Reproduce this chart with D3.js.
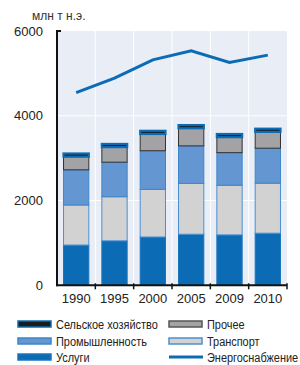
<!DOCTYPE html>
<html>
<head>
<meta charset="utf-8">
<script src="https://cdn.jsdelivr.net/npm/d3@7"></script>
<style>
  body { margin: 0; background: #fff; }
  svg { display: block; font-family: "Liberation Sans", Arial, sans-serif; }
</style>
</head>
<body>
<script>
const years = ["1990", "1995", "2000", "2005", "2009", "2010"];
const services = [950, 1050, 1140, 1205, 1190, 1230];
const transport = [945, 1040, 1125, 1200, 1170, 1180];
const industry = [830, 815, 910, 885, 770, 825];
const other = [310, 355, 395, 415, 365, 385];
const agriculture = [75, 75, 75, 75, 75, 75];
const supply = [4548, 4888, 5320, 5533, 5257, 5431];
const yTicks = [0, 2000, 4000, 6000];

const width = 300, height = 365;
const margin = { left: 57, right: 13, top: 31, bottom: 80 };

const series = [
    { name: "Услуги", values: services, fill: "#0b6cb5", stroke: "#1a75bd" },
    { name: "Транспорт", values: transport, fill: "#d2d2d3", stroke: "#4a90d0" },
    { name: "Промышленность", values: industry, fill: "#6496d2", stroke: "#3d86cc" },
    { name: "Прочее", values: other, fill: "#a3a3a6", stroke: "#333" },
    { name: "Сельское хозяйство", values: agriculture, fill: "#1c1c1c", stroke: "#0b6cb5" }
];

const svg = d3.select("body").append("svg")
    .attr("width", width)
    .attr("height", height);

const x = d3.scaleBand()
    .domain(years)
    .range([margin.left, width - margin.right])
    .padding(0);

const y = d3.scaleLinear()
    .domain([0, 6000])
    .range([height - margin.bottom + 0.3, margin.top]);

// plot background
svg.append("rect")
    .attr("x", margin.left)
    .attr("y", y(6000))
    .attr("width", x.range()[1] - margin.left)
    .attr("height", y(0) - y(6000))
    .attr("fill", "#e8edf6");

// white grid
svg.append("g")
    .selectAll("line")
    .data(yTicks.slice(1, 3))
    .join("line")
    .attr("x1", margin.left).attr("x2", x.range()[1])
    .attr("y1", d => y(d)).attr("y2", d => y(d))
    .attr("stroke", "#fff").attr("stroke-width", 1);

svg.append("g")
    .selectAll("line")
    .data(years.slice(1))
    .join("line")
    .attr("x1", d => x(d)).attr("x2", d => x(d))
    .attr("y1", y(6000)).attr("y2", y(0))
    .attr("stroke", "#fff").attr("stroke-width", 1);

// stacked bars
const stacked = [];
years.forEach((yr, i) => {
    let base = 0;
    series.forEach(s => {
        stacked.push({ year: yr, y0: base, y1: base + s.values[i], s: s });
        base += s.values[i];
    });
});

const bw = x.bandwidth() * 0.66;
svg.append("g")
    .selectAll("rect")
    .data(stacked)
    .join("rect")
    .attr("x", d => x(d.year) + (x.bandwidth() - bw) / 2)
    .attr("y", d => y(d.y1))
    .attr("width", bw)
    .attr("height", d => y(d.y0) - y(d.y1))
    .attr("fill", d => d.s.fill)
    .attr("stroke", d => d.s.stroke)
    .attr("stroke-width", d => d.s.name === "Сельское хозяйство" ? 2.2 : 1);

// energy supply line
const line = d3.line()
    .x((d, i) => x(years[i]) + x.bandwidth() / 2)
    .y(d => y(d));

svg.append("path")
    .datum(supply)
    .attr("d", line)
    .attr("fill", "none")
    .attr("stroke", "#0b6cb5")
    .attr("stroke-width", 3);

// axes
const yAxis = svg.append("g")
    .attr("transform", `translate(${margin.left},0)`)
    .call(d3.axisLeft(y).tickValues(yTicks).tickFormat(d3.format("d")).tickSize(0).tickPadding(14));
yAxis.select(".domain").remove();
yAxis.selectAll("text").attr("font-size", 13).attr("fill", "#222");

svg.append("line")
    .attr("x1", margin.left).attr("x2", margin.left)
    .attr("y1", y(6000) - 1).attr("y2", y(0) + 1)
    .attr("stroke", "#111").attr("stroke-width", 2);
svg.append("line")
    .attr("x1", margin.left).attr("x2", margin.left + 4)
    .attr("y1", y(6000)).attr("y2", y(6000))
    .attr("stroke", "#111").attr("stroke-width", 2);

const xAxis = svg.append("g")
    .attr("transform", `translate(0,${y(0)})`)
    .call(d3.axisBottom(x).tickSize(0).tickPadding(8));
xAxis.select(".domain").remove();
xAxis.selectAll("text").attr("font-size", 13).attr("fill", "#222");

svg.append("line")
    .attr("x1", margin.left - 1).attr("x2", x.range()[1])
    .attr("y1", y(0)).attr("y2", y(0))
    .attr("stroke", "#111").attr("stroke-width", 2);
svg.append("g")
    .selectAll("line")
    .data(years.slice(1).concat(["end"]))
    .join("line")
    .attr("x1", d => d === "end" ? x.range()[1] : x(d))
    .attr("x2", d => d === "end" ? x.range()[1] : x(d))
    .attr("y1", y(0) - 2).attr("y2", y(0) + 4)
    .attr("stroke", "#111").attr("stroke-width", 1.5);

// unit label
svg.append("text")
    .attr("x", 32).attr("y", 20)
    .attr("font-size", 12)
    .attr("fill", "#333")
    .text("млн т н.э.");

// legend
const legendItems = [
    { name: "Сельское хозяйство", fill: "#1c1c1c", stroke: "#0b6cb5", col: 0, row: 0 },
    { name: "Прочее", fill: "#a3a3a6", stroke: "#555", col: 1, row: 0 },
    { name: "Промышленность", fill: "#6496d2", stroke: "#3d86cc", col: 0, row: 1 },
    { name: "Транспорт", fill: "#d2d2d3", stroke: "#4a90d0", col: 1, row: 1 },
    { name: "Услуги", fill: "#0b6cb5", stroke: "#1a75bd", col: 0, row: 2 },
    { name: "Энергоснабжение", line: true, col: 1, row: 2 }
];
const colX = [18, 169];
const rowY = [324, 341, 357];

const lg = svg.append("g")
    .selectAll("g")
    .data(legendItems)
    .join("g")
    .attr("transform", d => `translate(${colX[d.col]},${rowY[d.row]})`);

lg.filter(d => !d.line).append("rect")
    .attr("x", 0).attr("y", -3)
    .attr("width", 33).attr("height", 6)
    .attr("fill", d => d.fill)
    .attr("stroke", d => d.stroke)
    .attr("stroke-width", 1.5);

lg.filter(d => d.line).append("line")
    .attr("x1", 0).attr("x2", 34)
    .attr("y1", 0).attr("y2", 0)
    .attr("stroke", "#0b6cb5").attr("stroke-width", 3);

// condensed legend text, like the narrow face in the original
lg.append("text")
    .attr("transform", "translate(38,5) scale(0.81,1)")
    .attr("font-size", 13.5)
    .attr("fill", "#222")
    .text(d => d.name);
</script>
</body>
</html>
